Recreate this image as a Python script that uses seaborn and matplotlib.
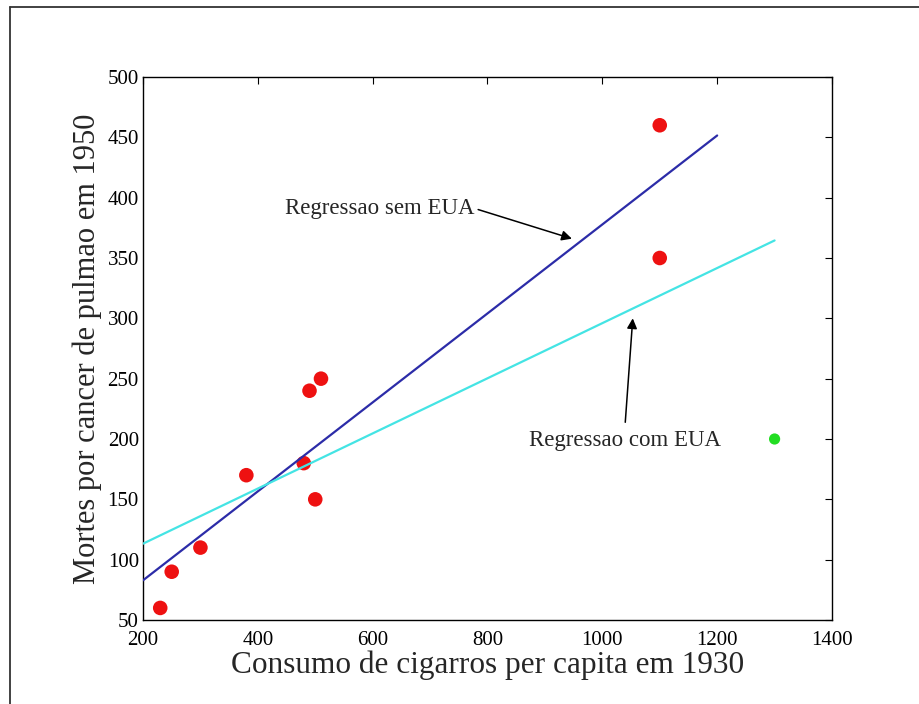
import numpy as np
import pandas as pd
import matplotlib
matplotlib.use("Agg")
import matplotlib.pyplot as plt
import seaborn as sns
from matplotlib.lines import Line2D

# Data
consumo = [230, 250, 300, 380, 480, 490, 500, 510, 1100, 1100]
mortes = [60, 90, 110, 170, 180, 240, 150, 250, 350, 460]
eua_consumo = [1300]
eua_mortes = [200]
x_ticks = [200, 400, 600, 800, 1000, 1200, 1400]
y_ticks = [50, 100, 150, 200, 250, 300, 350, 400, 450, 500]
range_sem = [200, 1200]
range_com = [200, 1300]

sns.set_theme(style="white")
plt.rcParams['font.family'] = ['Liberation Serif', 'DejaVu Serif']

fig = plt.figure(figsize=(9.2, 7.04), dpi=100)
ax = fig.add_axes([143/920, 1-620/704, (832-143)/920, (620-77)/704])

df = pd.DataFrame({"x": consumo, "y": mortes})
df_eua = pd.DataFrame({"x": eua_consumo, "y": eua_mortes})
df_all = pd.concat([df, df_eua], ignore_index=True)

# regression fits
b_sem = np.polyfit(df["x"], df["y"], 1)
b_com = np.polyfit(df_all["x"], df_all["y"], 1)
line_sem = pd.DataFrame({"x": range_sem, "y": np.polyval(b_sem, range_sem)})
line_com = pd.DataFrame({"x": range_com, "y": np.polyval(b_com, range_com)})

sns.scatterplot(data=df, x="x", y="y", ax=ax, color="#ee1111", s=110,
                edgecolor="none", zorder=2, legend=False)
sns.scatterplot(data=df_eua, x="x", y="y", ax=ax, color="#22dd22", s=65,
                edgecolor="none", zorder=2, legend=False)
sns.lineplot(data=line_sem, x="x", y="y", ax=ax, color="#2c2ca8", lw=1.6, zorder=3)
sns.lineplot(data=line_com, x="x", y="y", ax=ax, color="#44e4e4", lw=1.6, zorder=3)

ax.set_xlim(200, 1400)
ax.set_ylim(50, 500)
ax.set_xticks(x_ticks)
ax.set_yticks(y_ticks)
ax.tick_params(direction="in", length=5, width=0.8, top=True, right=True,
               labelsize=15, colors="black")
ax.tick_params(axis="x", pad=8)
ax.tick_params(axis="y", pad=3)
for s in ax.spines.values():
    s.set_color("black")
    s.set_linewidth(1.0)

ax.set_xlabel("Consumo de cigarros per capita em 1930", fontsize=22.5, labelpad=0)
ax.set_ylabel("Mortes por cancer de pulmao em 1950", fontsize=22, labelpad=4)

ax.annotate("Regressao sem EUA", xy=(947, 366), xytext=(778, 391),
            ha="right", va="center", fontsize=16.5,
            arrowprops=dict(arrowstyle="-|>", color="black", lw=1.1, relpos=(1, 0.5),
                            shrinkA=0, shrinkB=0, mutation_scale=15))
ax.annotate("Regressao com EUA", xy=(1053, 300), xytext=(1039, 199),
            ha="center", va="center", fontsize=16.5,
            arrowprops=dict(arrowstyle="-|>", color="black", lw=1.1, relpos=(0.5, 1),
                            shrinkA=3, shrinkB=0, mutation_scale=15))

# page border (top and left)
fig.add_artist(Line2D([10/920, 1.0], [1-7/704, 1-7/704], transform=fig.transFigure,
                      color="#333333", lw=1.3))
fig.add_artist(Line2D([10/920, 10/920], [0.0, 1-7/704], transform=fig.transFigure,
                      color="#333333", lw=1.3))

fig.savefig("out.png", dpi=100)
